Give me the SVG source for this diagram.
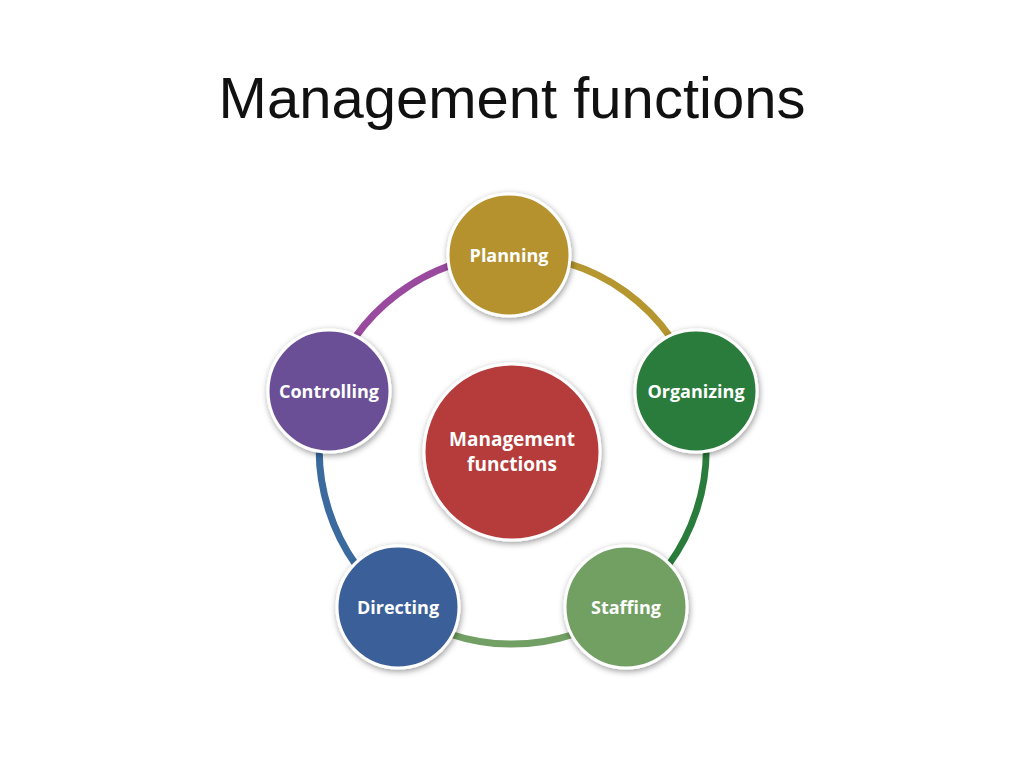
<svg xmlns="http://www.w3.org/2000/svg" width="1024" height="768" viewBox="0 0 1024 768">
<defs>
<filter id="sh" x="-30%" y="-30%" width="160%" height="160%">
<feDropShadow dx="1" dy="2" stdDeviation="3" flood-color="#000" flood-opacity="0.4"/>
</filter>
</defs>
<style>
.title{font-family:"Liberation Sans",Arial,sans-serif;font-size:58px;fill:#111;}
.lbl{font-family:"Open Sans","Liberation Sans",sans-serif;font-weight:bold;font-size:18px;fill:#fff;}
.clbl{font-family:"Open Sans","Liberation Sans",sans-serif;font-weight:bold;font-size:19px;fill:#fff;}
.node{stroke:#fff;stroke-width:3;filter:url(#sh);}
.arc{fill:none;stroke-width:7;}
</style>
<rect width="1024" height="768" fill="#fff"/>
<text class="title" x="512" y="118" text-anchor="middle">Management functions</text>
<g id="connectors">
<path class="arc" stroke="#b5962f" d="M 509 255 A 194 194 0 0 1 697 391"/>
<path class="arc" stroke="#2a7c3c" d="M 697 391 A 194 194 0 0 1 626 607"/>
<path class="arc" stroke="#72a064" d="M 626 607 A 194 194 0 0 1 398 607"/>
<path class="arc" stroke="#3a6a9e" d="M 398 607 A 194 194 0 0 1 329 391"/>
<path class="arc" stroke="#9a4a9e" d="M 329 391 A 194 194 0 0 1 509 255"/>
</g>
<g id="center">
<circle class="node" cx="512" cy="452" r="88" fill="#b63a3a"/>
<text class="clbl" x="512" y="446" text-anchor="middle">Management</text>
<text class="clbl" x="512" y="471" text-anchor="middle">functions</text>
</g>
<g id="planning">
<circle class="node" cx="509" cy="255" r="61" fill="#b5922e"/>
<text class="lbl" x="509" y="262" text-anchor="middle">Planning</text>
</g>
<g id="organizing">
<circle class="node" cx="696" cy="391" r="61" fill="#2b7c3d"/>
<text class="lbl" x="696" y="398" text-anchor="middle">Organizing</text>
</g>
<g id="staffing">
<circle class="node" cx="626" cy="607" r="61" fill="#72a064"/>
<text class="lbl" x="626" y="614" text-anchor="middle">Staffing</text>
</g>
<g id="directing">
<circle class="node" cx="398" cy="607" r="61" fill="#3b5e98"/>
<text class="lbl" x="398" y="614" text-anchor="middle">Directing</text>
</g>
<g id="controlling">
<circle class="node" cx="329" cy="391" r="61" fill="#6a4f96"/>
<text class="lbl" x="329" y="398" text-anchor="middle">Controlling</text>
</g>
</svg>
